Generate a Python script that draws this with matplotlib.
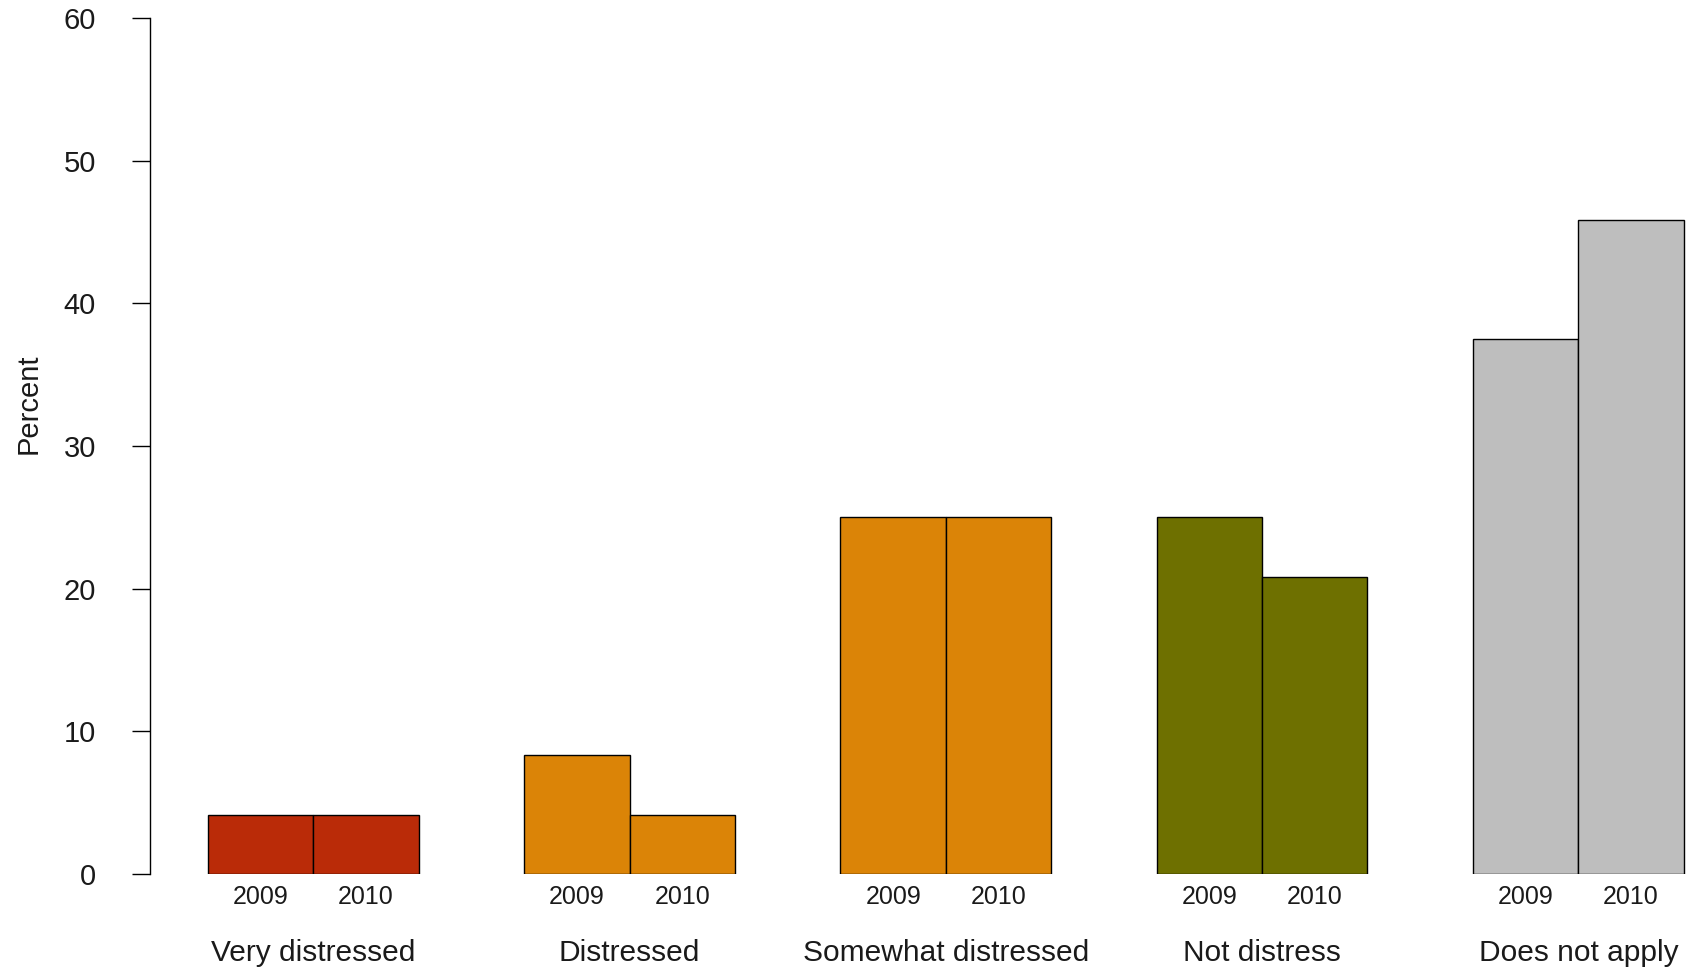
import matplotlib
matplotlib.use("Agg")
import matplotlib.pyplot as plt
import numpy as np

categories = ["Very distressed", "Distressed", "Somewhat distressed", "Not distress", "Does not apply"]
years = ["2009", "2010"]
values_2009 = [4.17, 8.33, 25.0, 25.0, 37.5]
values_2010 = [4.17, 4.17, 25.0, 20.83, 45.83]
colors = ["#BA2B08", "#DB8407", "#DB8407", "#6E7000", "#BEBEBE"]
yticks = [0, 10, 20, 30, 40, 50, 60]

W, H = 1689, 973
fig = plt.figure(figsize=(W / 100, H / 100), dpi=100)
left_px, right_px, top_px, bottom_px = 150, 1689, 18, 874
ax = fig.add_axes([left_px / W, 1 - bottom_px / H, (right_px - left_px) / W, (bottom_px - top_px) / H])

font = "Liberation Sans"
n = len(categories)
group_start = 1 + 3 * np.arange(n)  # R barplot space=c(0,1)
for i in range(n):
    for j, vals in enumerate([values_2009, values_2010]):
        ax.bar(group_start[i] + j, vals[i], width=1.0, align="edge",
               color=colors[i], edgecolor="black", linewidth=1.0, zorder=2)
        ax.text(group_start[i] + j + 0.5, -0.035, years[j],
                transform=ax.get_xaxis_transform(), ha="center", va="baseline",
                fontsize=18, family=font, color="#1a1a1a")
    ax.text(group_start[i] + 1.0, -0.1015, categories[i],
            transform=ax.get_xaxis_transform(), ha="center", va="baseline",
            fontsize=21.5, family=font, color="#1a1a1a")

ax.set_xlim(0.45, 15.05)
ax.set_ylim(0, 60)
ax.set_xticks([])
ax.set_yticks(yticks)
ax.set_yticklabels([str(t) for t in yticks], fontsize=21, family=font, color="#1a1a1a")
ax.tick_params(axis="y", length=13, width=1.0, pad=26)
for s in ["top", "right", "bottom"]:
    ax.spines[s].set_visible(False)
ax.spines["left"].set_linewidth(1.0)
ax.patch.set_alpha(0)

fig.text(29 / W, 1 - 404 / H, "Percent", rotation=90, ha="center", va="center",
         fontsize=21, family=font, color="#1a1a1a")

fig.savefig("out.png", dpi=100, facecolor="white")
